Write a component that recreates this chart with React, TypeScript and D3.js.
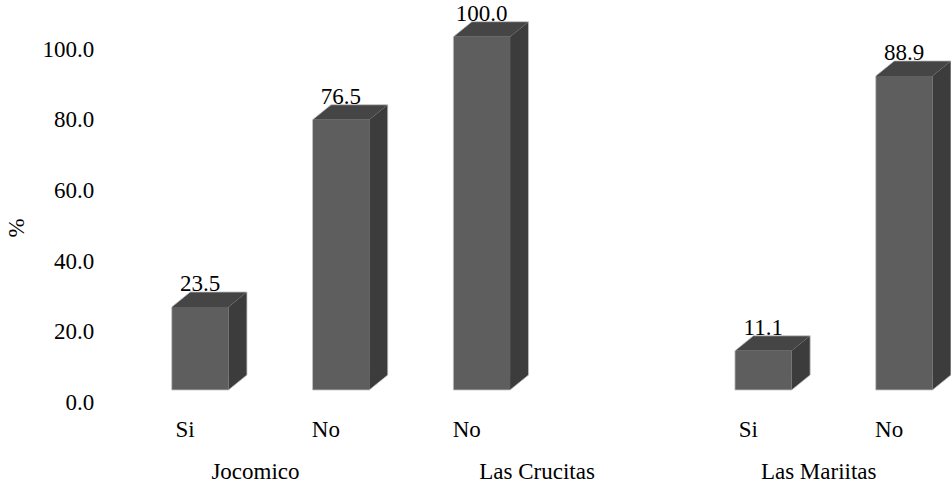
import React from "react";
import * as d3 from "d3";

const slotKeys = ["s1", "s2", "s3", "s4", "s5", "s6"];
const responses = ["Si", "No", "No", "", "Si", "No"];
const groupOfSlot = ["Jocomico", "Jocomico", "Las Crucitas", "Las Crucitas", "Las Mariitas", "Las Mariitas"];
const groups = ["Jocomico", "Las Crucitas", "Las Mariitas"];
const values: (number | null)[] = [23.5, 76.5, 100.0, null, 11.1, 88.9];
const yTicks = [0, 20, 40, 60, 80, 100];

const W = 951;
const H = 485;
const DX = 18.5;
const DY = 15;
const FONT = "Liberation Serif";

export default function App() {
  const y = d3.scaleLinear().domain([0, 100]).range([390, 36.7]);
  const x = d3
    .scaleBand<string>()
    .domain(slotKeys)
    .range([129.7, 974.5])
    .paddingInner(0.597)
    .paddingOuter(0.2985);
  const bw = x.bandwidth();
  const labelX = (k: string) => (x(k) as number) + bw / 2 - 15;
  const txt = { fontFamily: FONT, fontSize: 23 };

  return (
    <div>
      <style>{`body{margin:0}`}</style>
      <svg width={W} height={H} style={{ display: "block", fontFamily: FONT }}>
        <rect width={W} height={H} fill="#fff" />
        {yTicks.map((t) => (
          <text key={t} x={94.3} y={y(t) + 20} textAnchor="end" style={txt} fill="#000">
            {t.toFixed(1)}
          </text>
        ))}
        <text
          transform={`translate(24,228) rotate(-90)`}
          textAnchor="middle"
          style={txt}
          fill="#000"
        >
          %
        </text>
        {slotKeys.map((k, i) => {
          const v = values[i];
          if (v == null) return null;
          const x0 = x(k) as number;
          const x1 = x0 + bw;
          const yb = y(0);
          const yt = y(v);
          const front = `M${x0},${yt}L${x1},${yt}L${x1},${yb}L${x0},${yb}Z`;
          const top = `M${x0},${yt}L${x0 + DX},${yt - DY}L${x1 + DX},${yt - DY}L${x1},${yt}Z`;
          const side = `M${x1},${yt}L${x1 + DX},${yt - DY}L${x1 + DX},${yb - DY}L${x1},${yb}Z`;
          const hull = `M${x0},${yt}L${x0 + DX},${yt - DY}L${x1 + DX},${yt - DY}L${x1 + DX},${yb - DY}L${x1},${yb}L${x0},${yb}Z`;
          return (
            <g key={k}>
              <path d={front} fill="#5e5e5e" />
              <path d={top} fill="#454545" />
              <path d={side} fill="#3c3c3c" />
              <path d={hull} fill="none" stroke="#c4c4c4" strokeWidth={0.8} />
              <text x={x0 + bw / 2} y={yt - 16} textAnchor="middle" style={txt} fill="#000">
                {v.toFixed(1)}
              </text>
            </g>
          );
        })}
        {slotKeys.map((k, i) =>
          responses[i] ? (
            <text key={"c" + k} x={labelX(k)} y={436.7} textAnchor="middle" style={txt} fill="#000">
              {responses[i]}
            </text>
          ) : null
        )}
        {groups.map((g) => {
          const ks = slotKeys.filter((_, i) => groupOfSlot[i] === g);
          const cx = d3.mean(ks, (k) => labelX(k)) as number;
          return (
            <text key={g} x={cx} y={479} textAnchor="middle" style={txt} fill="#000">
              {g}
            </text>
          );
        })}
      </svg>
    </div>
  );
}
